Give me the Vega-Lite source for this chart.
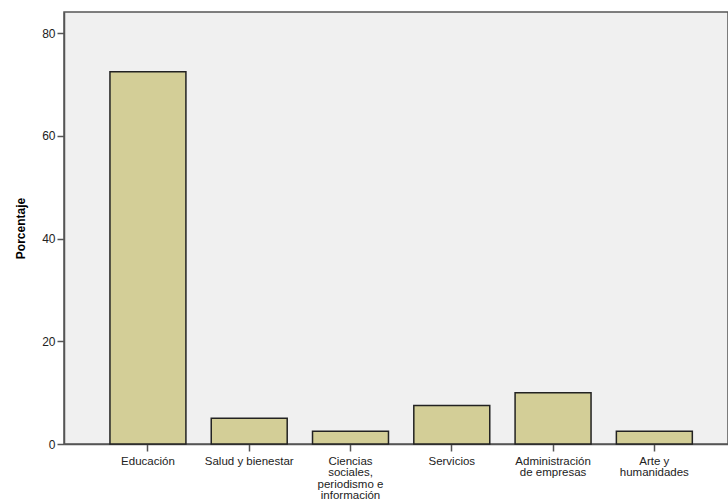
{
  "$schema": "https://vega.github.io/schema/vega-lite/v6.json",
  "autosize": "none",
  "padding": {"left": 64, "top": 12, "right": 0, "bottom": 58},
  "width": 664,
  "height": 432,
  "background": "#ffffff",
  "config": {
    "view": {"fill": "#f0f0f0", "stroke": "#555555", "strokeWidth": 1.5},
    "font": "Liberation Sans"
  },
  "data": {
    "values": [
      {"area": "Educación", "porcentaje": 72.5},
      {"area": "Salud y bienestar", "porcentaje": 5.0},
      {"area": "Ciencias sociales, periodismo e información", "porcentaje": 2.5},
      {"area": "Servicios", "porcentaje": 7.5},
      {"area": "Administración de empresas", "porcentaje": 10.0},
      {"area": "Arte y humanidades", "porcentaje": 2.5}
    ]
  },
  "mark": {"type": "bar", "fill": "#d3ce97", "stroke": "#222222", "strokeWidth": 1.5},
  "encoding": {
    "x": {
      "field": "area",
      "type": "nominal",
      "sort": null,
      "scale": {"paddingInner": 0.25, "paddingOuter": 0.403, "align": 0.563},
      "axis": {
        "title": null,
        "labelAngle": 0,
        "labelFontSize": 11.5,
        "labelColor": "#222222",
        "labelLineHeight": 11.5,
        "labelPadding": 4,
        "tickSize": 7,
        "tickColor": "#555555",
        "tickWidth": 1.5,
        "domainColor": "#555555",
        "domainWidth": 1.5,
        "labelExpr": "datum.label == 'Ciencias sociales, periodismo e información' ? ['Ciencias', 'sociales,', 'periodismo e', 'información'] : datum.label == 'Administración de empresas' ? ['Administración', 'de empresas'] : datum.label == 'Arte y humanidades' ? ['Arte y', 'humanidades'] : datum.label"
      }
    },
    "y": {
      "field": "porcentaje",
      "type": "quantitative",
      "scale": {"domain": [0, 84.15], "nice": false},
      "axis": {
        "title": "Porcentaje",
        "titleFontSize": 12,
        "titleFontWeight": "bold",
        "titleColor": "#000000",
        "titlePadding": 14,
        "values": [0, 20, 40, 60, 80],
        "grid": false,
        "labelFontSize": 12,
        "labelColor": "#222222",
        "labelPadding": 2,
        "tickSize": 7,
        "tickColor": "#555555",
        "tickWidth": 1.5,
        "domainColor": "#555555",
        "domainWidth": 1.5
      }
    }
  }
}
